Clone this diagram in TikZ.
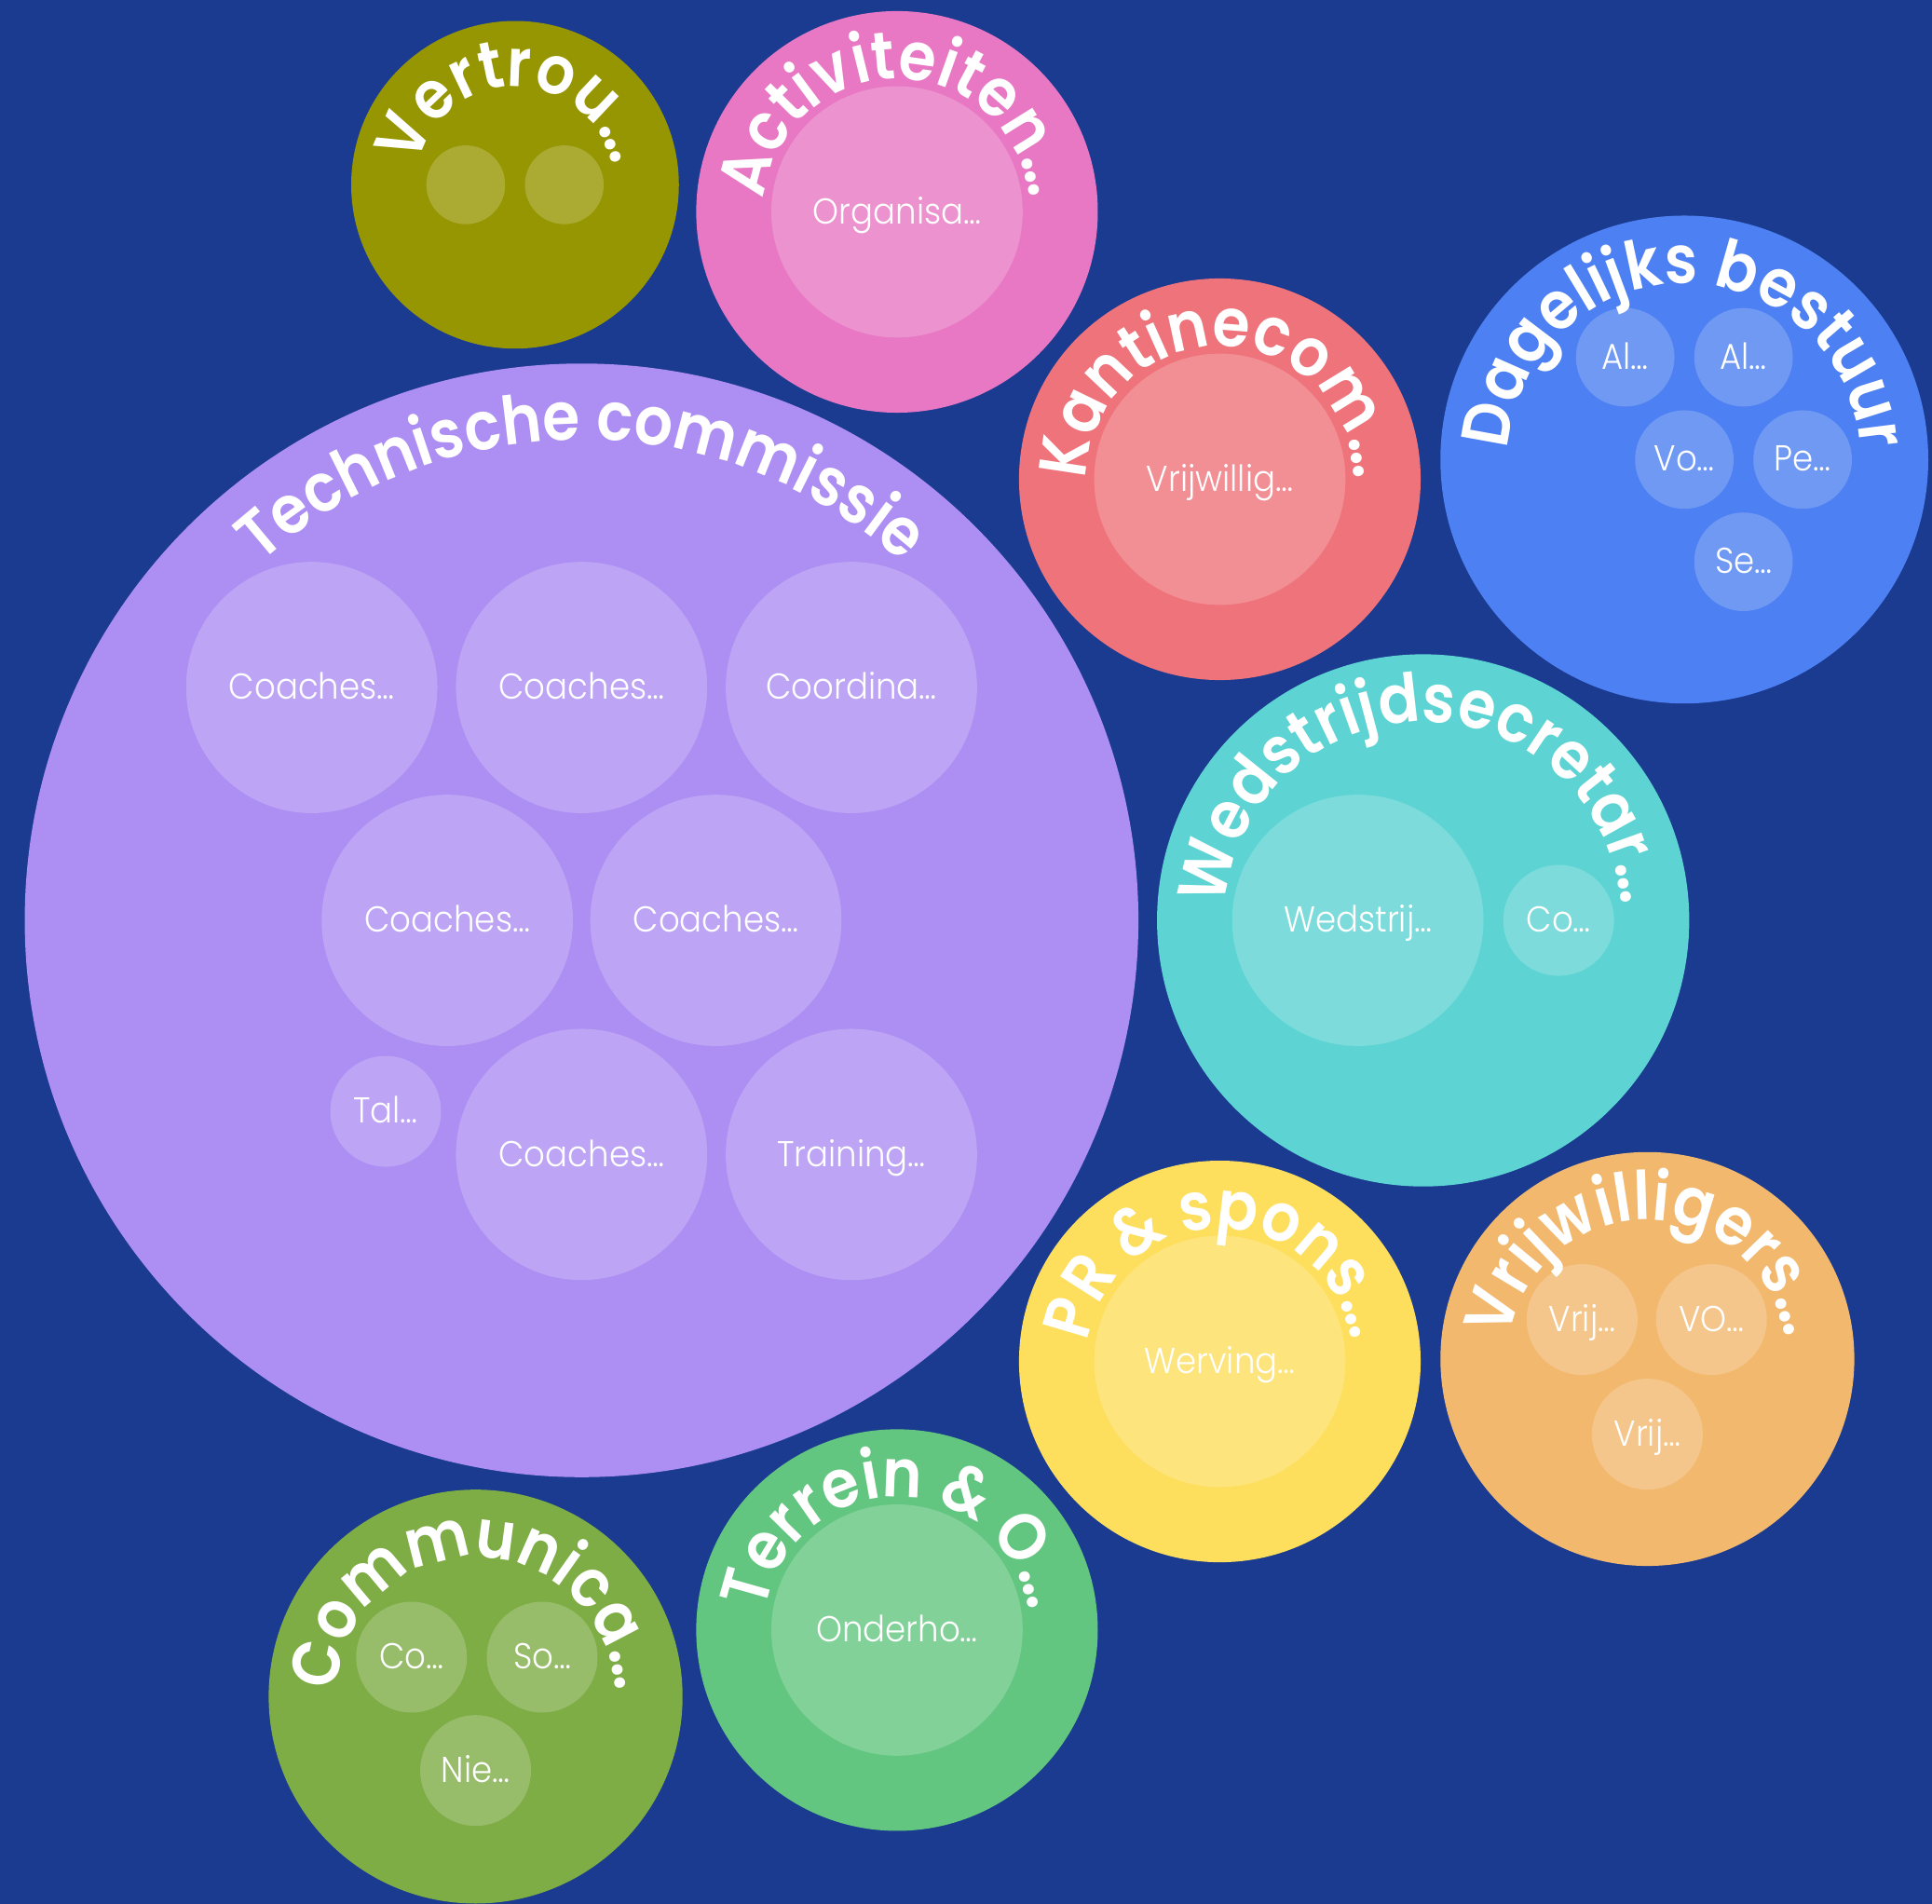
\documentclass[tikz,border=0pt]{standalone}
\usepackage{fontspec}
\newfontfamily\labelfont{Poppins}[UprightFont=* SemiBold, FakeStretch=0.9]
\newfontfamily\memberfont{Poppins}[UprightFont=* Light, FakeStretch=0.92]
\usetikzlibrary{decorations.text}

\definecolor{bgblue}{HTML}{1A3B8F}
\definecolor{vtcol}{HTML}{969602}
\definecolor{accol}{HTML}{E878C4}
\definecolor{kccol}{HTML}{EF737B}
\definecolor{dbcol}{HTML}{4D80F2}
\definecolor{tccol}{HTML}{AD8EF2}
\definecolor{wscol}{HTML}{5DD4D3}
\definecolor{prcol}{HTML}{FDDE5D}
\definecolor{vwcol}{HTML}{F2B86E}
\definecolor{trcol}{HTML}{62C680}
\definecolor{cmcol}{HTML}{7EAC45}

\begin{document}
\begin{tikzpicture}[x=0.013227cm, y=0.013227cm,
  group/.style 2 args={circle, inner sep=0pt, fill=#1, minimum size=#2},
  member/.style={circle, inner sep=0pt, fill=white, fill opacity=0.2, text opacity=1,
    text=white, minimum size=#1, text height=0.72em, text depth=0pt,
    font=\memberfont\fontsize{11}{13}\selectfont},
  grouplabel/.style={decorate, decoration={text along path, text align=center,
    text color=white, text={|\labelfont\fontsize{20.5}{22}\selectfont|#1}}}]
  \fill[bgblue] (0,0) rectangle (1568,1545);
  \useasboundingbox (0,0) rectangle (1568,1545);

  % groups
  \node[group={vtcol}{3.518cm}] (vt) at (418,1395) {};
  \node[group={accol}{4.312cm}] (ac) at (728,1373) {};
  \node[group={kccol}{4.312cm}] (kc) at (990,1156) {};
  \node[group={dbcol}{5.238cm}] (db) at (1367,1172) {};
  \node[group={tccol}{11.957cm}] (tc) at (472,798) {};
  \node[group={wscol}{5.714cm}] (ws) at (1155,798) {};
  \node[group={prcol}{4.312cm}] (pr) at (990,440) {};
  \node[group={vwcol}{4.444cm}] (vw) at (1337,442) {};
  \node[group={trcol}{4.312cm}] (tr) at (728,222) {};
  \node[group={cmcol}{4.444cm}] (cm) at (386,168) {};

  % labels on the rims
  \path[grouplabel={Vertrou…}] (vt.center) ++(200:80) arc[start angle=200, end angle=-20, radius=80];
  \path[grouplabel={Activiteiten…}] (ac.center) ++(200:108) arc[start angle=200, end angle=-20, radius=108];
  \path[grouplabel={Kantinecom…}] (kc.center) ++(200:108) arc[start angle=200, end angle=-20, radius=108];
  \path[grouplabel={Dagelijks bestuur}] (db.center) ++(200:143) arc[start angle=200, end angle=-20, radius=143];
  \path[grouplabel={Technische commissie}] (tc.center) ++(200:390) arc[start angle=200, end angle=-20, radius=390];
  \path[grouplabel={Wedstrijdsecretar…}] (ws.center) ++(200:161) arc[start angle=200, end angle=-20, radius=161];
  \path[grouplabel={PR {\&} spons…}] (pr.center) ++(200:108) arc[start angle=200, end angle=-20, radius=108];
  \path[grouplabel={Vrijwilligers…}] (vw.center) ++(200:113) arc[start angle=200, end angle=-20, radius=113];
  \path[grouplabel={Terrein {\&} O…}] (tr.center) ++(200:108) arc[start angle=200, end angle=-20, radius=108];
  \path[grouplabel={Communica…}] (cm.center) ++(200:113) arc[start angle=200, end angle=-20, radius=113];

  % members
  \node[member=0.846cm] (vt1) at (378,1395) {};
  \node[member=0.846cm] (vt2) at (458,1395) {};

  \node[member=2.698cm] (ac1) at (728,1373) {Organisa…};
  \node[member=2.698cm] (kc1) at (990,1156) {Vrijwillig…};

  \node[member=1.058cm] (db1) at (1319,1255) {Al…};
  \node[member=1.058cm] (db2) at (1415,1255) {Al…};
  \node[member=1.058cm] (db3) at (1367,1172) {Vo…};
  \node[member=1.058cm] (db4) at (1463,1172) {Pe…};
  \node[member=1.058cm] (db5) at (1415,1089) {Se…};

  \node[member=2.698cm] (tc1) at (253,987) {Coaches…};
  \node[member=2.698cm] (tc2) at (472,987) {Coaches…};
  \node[member=2.698cm] (tc3) at (691,987) {Coordina…};
  \node[member=2.698cm] (tc4) at (363,798) {Coaches…};
  \node[member=2.698cm] (tc5) at (581,798) {Coaches…};
  \node[member=2.698cm] (tc6) at (472,608) {Coaches…};
  \node[member=2.698cm] (tc7) at (691,608) {Training…};
  \node[member=1.190cm] (tc8) at (313,643) {Tal…};

  \node[member=2.698cm] (ws1) at (1102,798) {Wedstrij…};
  \node[member=1.190cm] (ws2) at (1265,798) {Co…};

  \node[member=2.698cm] (pr1) at (990,440) {Werving…};

  \node[member=1.190cm] (vw1) at (1284,474) {Vrij…};
  \node[member=1.190cm] (vw2) at (1389,474) {VO…};
  \node[member=1.190cm] (vw3) at (1337,381) {Vrij…};

  \node[member=2.698cm] (tr1) at (728,222) {Onderho…};

  \node[member=1.190cm] (cm1) at (334,200) {Co…};
  \node[member=1.190cm] (cm2) at (440,200) {So…};
  \node[member=1.190cm] (cm3) at (386,108) {Nie…};
\end{tikzpicture}
\end{document}
